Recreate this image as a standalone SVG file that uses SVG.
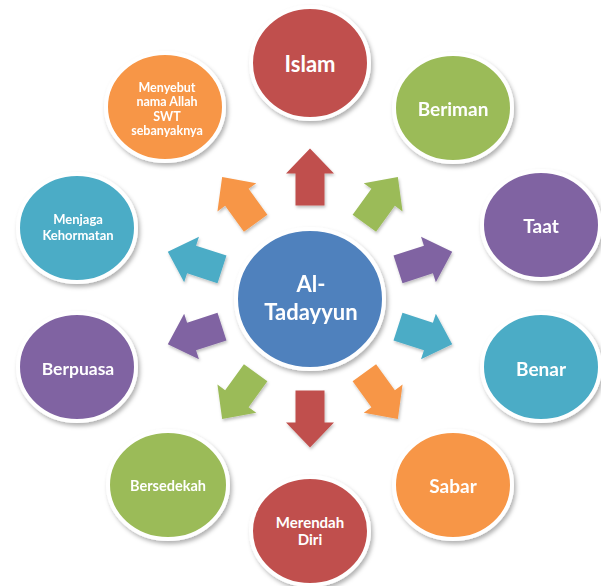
<svg xmlns="http://www.w3.org/2000/svg" xmlns:xlink="http://www.w3.org/1999/xlink" width="601" height="586" viewBox="0 0 601 586">
<defs>
<filter id="sh" x="-20%" y="-20%" width="140%" height="140%">
<feDropShadow dx="2" dy="3" stdDeviation="2" flood-color="#000" flood-opacity="0.3"/>
</filter>
<filter id="ash" x="-30%" y="-30%" width="160%" height="160%">
<feDropShadow dx="1" dy="2" stdDeviation="1.5" flood-color="#000" flood-opacity="0.25"/>
</filter>
<polygon id="arrow" points="0,-28.5 24,-3.5 14.5,-3.5 14.5,28.5 -14.5,28.5 -14.5,-3.5 -24,-3.5"/>
</defs>
<style>
.c{stroke:#fff;stroke-width:4;filter:url(#sh)}
.t{font-family:Lato,"Open Sans","Liberation Sans",sans-serif;font-weight:bold;fill:#fff;text-anchor:middle;dominant-baseline:central}
.red{fill:#C0504D}.green{fill:#9BBB59}.purple{fill:#8064A2}.teal{fill:#4BACC6}.orange{fill:#F79646}.blue{fill:#4F81BD}
</style>
<rect width="601" height="586" fill="#fff"/>
<g id="connectors" filter="url(#ash)">
<use href="#arrow" class="red" transform="translate(310,177) rotate(0)"/>
<use href="#arrow" class="green" transform="translate(381.1,200.1) rotate(36)"/>
<use href="#arrow" class="purple" transform="translate(425.1,260.6) rotate(72)"/>
<use href="#arrow" class="teal" transform="translate(425.1,335.4) rotate(108)"/>
<use href="#arrow" class="orange" transform="translate(381.1,395.9) rotate(144)"/>
<use href="#arrow" class="red" transform="translate(310,419) rotate(180)"/>
<use href="#arrow" class="green" transform="translate(238.9,395.9) rotate(216)"/>
<use href="#arrow" class="purple" transform="translate(194.9,335.4) rotate(252)"/>
<use href="#arrow" class="teal" transform="translate(194.9,260.6) rotate(288)"/>
<use href="#arrow" class="orange" transform="translate(238.9,200.1) rotate(324)"/>
</g>
<g id="center">
<ellipse class="c blue" cx="310" cy="299" rx="74" ry="70"/>
<text class="t" x="311" y="283" font-size="22">Al-</text>
<text class="t" x="311" y="311" font-size="22">Tadayyun</text>
</g>
<g id="islam">
<ellipse class="c red" cx="310" cy="63" rx="59" ry="56"/>
<text class="t" x="310" y="63" font-size="22">Islam</text>
</g>
<g id="beriman">
<ellipse class="c green" cx="453" cy="108" rx="59" ry="54"/>
<text class="t" x="453" y="108" font-size="19">Beriman</text>
</g>
<g id="taat">
<ellipse class="c purple" cx="541" cy="225" rx="59" ry="54"/>
<text class="t" x="541" y="225" font-size="19">Taat</text>
</g>
<g id="benar">
<ellipse class="c teal" cx="541" cy="367" rx="59" ry="54"/>
<text class="t" x="541" y="368" font-size="19">Benar</text>
</g>
<g id="sabar">
<ellipse class="c orange" cx="453" cy="485" rx="59" ry="54"/>
<text class="t" x="453" y="485" font-size="19">Sabar</text>
</g>
<g id="merendah">
<ellipse class="c red" cx="310" cy="531" rx="59" ry="54"/>
<text class="t" x="310" y="522" font-size="15">Merendah</text>
<text class="t" x="310" y="539" font-size="15">Diri</text>
</g>
<g id="bersedekah">
<ellipse class="c green" cx="168" cy="485" rx="60" ry="54"/>
<text class="t" x="168" y="485" font-size="14.5">Bersedekah</text>
</g>
<g id="berpuasa">
<ellipse class="c purple" cx="77" cy="367" rx="59" ry="54"/>
<text class="t" x="78" y="368" font-size="17.5">Berpuasa</text>
</g>
<g id="menjaga">
<ellipse class="c teal" cx="77" cy="228" rx="59" ry="54"/>
<text class="t" x="78" y="219" font-size="13">Menjaga</text>
<text class="t" x="78" y="235" font-size="13">Kehormatan</text>
</g>
<g id="menyebut">
<ellipse class="c orange" cx="165" cy="107" rx="59" ry="54"/>
<text class="t" x="167" y="87" font-size="12.5">Menyebut</text>
<text class="t" x="167" y="101.5" font-size="12.5">nama Allah</text>
<text class="t" x="167" y="116" font-size="12.5">SWT</text>
<text class="t" x="167" y="130" font-size="12.5">sebanyaknya</text>
</g>
</svg>
